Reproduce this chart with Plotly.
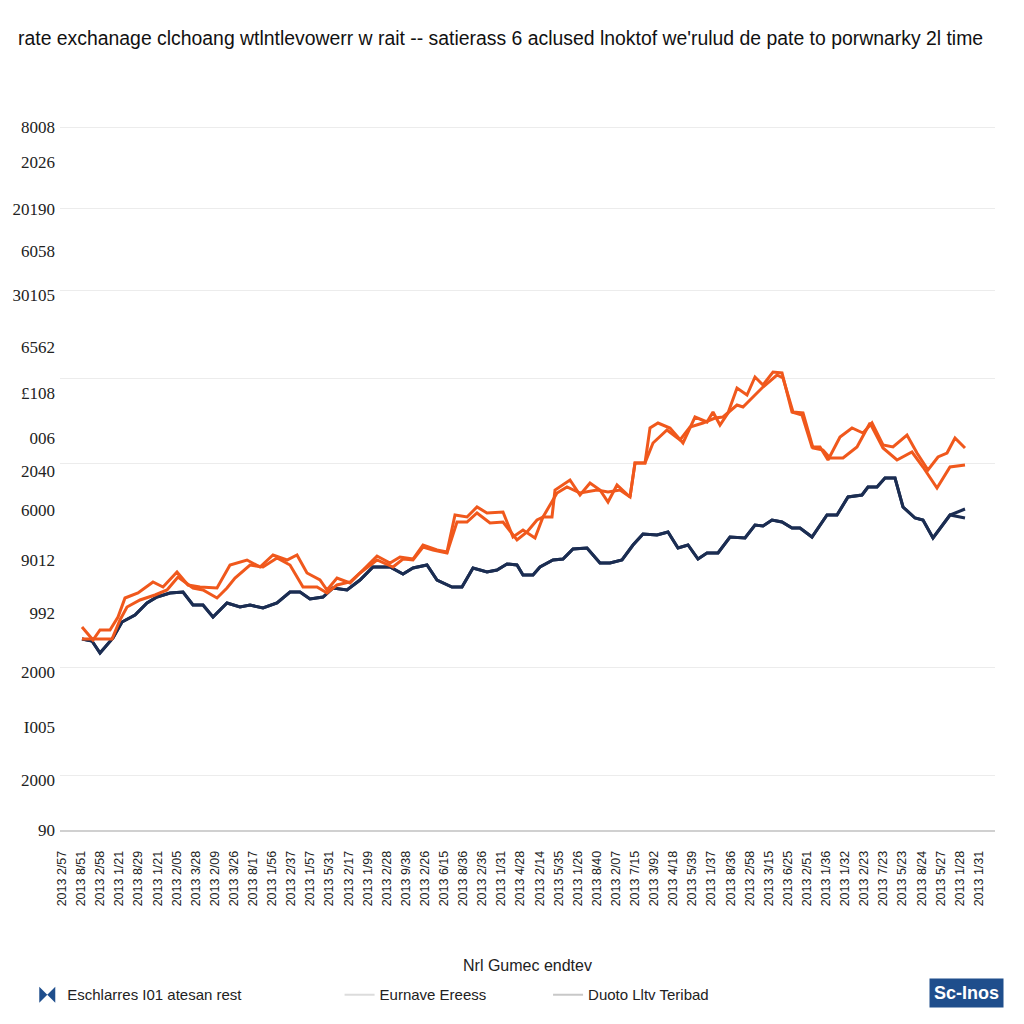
import plotly.graph_objects as go

# ---------------- data (x: days from start, y: rate index) ----------------
navy_x = [2, 12, 20, 33, 42, 55, 67, 77, 90, 103, 113, 123, 133, 147, 160, 170, 183, 197, 210, 220,
          230, 243, 253, 267, 280, 293, 310, 323, 333, 347, 357, 372, 382, 393, 407, 417, 427, 437, 443, 453,
          460, 473, 483, 493, 507, 520, 530, 542, 553, 563, 577, 588, 598, 608, 618, 627, 638, 650, 665, 675,
          683, 692, 702, 712, 720, 732, 747, 757, 768, 782, 788, 797, 805, 815, 823, 835, 843, 853, 870, 885]
navy_a = [19.1, 18.9, 17.7, 19.2, 20.8, 21.5, 22.7, 23.3, 23.7, 23.8, 22.5, 22.5, 21.3, 22.7, 22.3, 22.5, 22.2, 22.7, 23.8, 23.8,
          23.1, 23.3, 24.2, 24.0, 25.0, 26.3, 26.3, 25.6, 26.2, 26.5, 25.0, 24.3, 24.3, 26.2, 25.8, 26.0, 26.6, 26.5, 25.5, 25.5,
          26.3, 27.0, 27.1, 28.1, 28.2, 26.7, 26.7, 27.0, 28.5, 29.6, 29.5, 29.8, 28.2, 28.5, 27.1, 27.7, 27.7, 29.3, 29.2, 30.5,
          30.4, 31.0, 30.8, 30.2, 30.2, 29.3, 31.5, 31.5, 33.3, 33.5, 34.3, 34.3, 35.2, 35.2, 32.3, 31.2, 31.0, 29.2, 31.5, 32.1]
navy_b = navy_a[:-1] + [31.2]

orange_a_x = [2, 13, 20, 30, 38, 45, 58, 73, 83, 97, 108, 120, 137, 150, 167, 180, 193, 207, 217, 227,
              240, 247, 257, 270, 283, 297, 310, 320, 333, 343, 357, 367, 375, 387, 397, 407, 423, 433, 443, 455,
              463, 472, 475, 490, 500, 510, 520, 528, 537, 550, 555, 565, 570, 578, 590, 603, 615, 627, 633, 640,
              648, 657, 667, 675, 683, 693, 702, 712, 722, 732, 740, 748, 760, 772, 783, 792, 803, 813, 827, 837,
              848, 858, 867, 875, 885]
orange_a = [20.3, 19.0, 20.0, 20.0, 21.3, 23.2, 23.7, 24.8, 24.3, 25.8, 24.5, 24.3, 24.2, 26.5, 27.0, 26.3, 27.5, 27.0, 27.5, 25.7,
            25.0, 24.0, 25.2, 24.7, 26.0, 27.4, 26.7, 27.3, 27.1, 28.5, 28.0, 27.8, 31.5, 31.3, 32.3, 31.7, 31.8, 29.3, 30.0, 29.2,
            31.3, 31.3, 34.0, 35.0, 33.5, 34.7, 34.0, 32.8, 34.5, 33.3, 36.7, 36.7, 40.2, 40.7, 40.2, 38.7, 41.3, 40.8, 41.8, 40.5,
            41.7, 44.2, 43.5, 45.3, 44.5, 45.8, 45.7, 41.8, 41.5, 38.3, 38.3, 37.0, 39.3, 40.2, 39.7, 40.7, 38.5, 38.3, 39.5, 37.7,
            36.0, 37.3, 37.7, 39.2, 38.2]

orange_b_x = [2, 17, 32, 40, 47, 60, 75, 87, 98, 113, 123, 137, 147, 155, 170, 183, 197, 210, 223, 237,
              247, 257, 270, 280, 297, 313, 323, 333, 343, 353, 367, 377, 387, 397, 410, 423, 437, 447, 457, 463,
              477, 487, 500, 517, 528, 540, 550, 555, 565, 573, 587, 600, 610, 623, 635, 643, 657, 663, 673, 683,
              697, 703, 713, 723, 733, 743, 750, 763, 777, 790, 803, 817, 832, 843, 857, 870, 885]
orange_b = [19.1, 19.1, 19.1, 21.0, 22.3, 23.0, 23.5, 24.0, 25.3, 24.2, 24.0, 23.2, 24.2, 25.2, 26.5, 26.3, 27.2, 26.5, 24.3, 24.3,
            23.7, 24.5, 24.8, 25.7, 27.0, 26.3, 27.1, 27.0, 28.3, 28.0, 27.7, 30.8, 30.8, 31.7, 30.7, 30.8, 29.0, 29.8, 31.0, 31.3,
            33.7, 34.3, 33.7, 34.0, 33.8, 34.0, 33.3, 36.7, 36.7, 38.7, 40.0, 39.0, 40.3, 40.7, 41.2, 41.3, 42.5, 42.3, 43.3, 44.3,
            45.5, 45.2, 41.8, 41.7, 38.2, 38.0, 37.2, 37.2, 38.3, 40.7, 38.2, 37.0, 37.8, 36.3, 34.2, 36.3, 36.5]

# axis texts
y_tick_labels = ["8008", "2026", "20190", "6058", "30105", "6562", "£108", "006", "2040",
                 "6000", "9012", "992", "2000", "I005", "2000", "90"]
y_tick_values = [70.3, 66.8, 62.1, 57.9, 53.5, 48.3, 43.7, 39.2, 35.9, 32.0, 27.0, 21.7, 15.8, 10.3, 5.0, 0]
y_grid_values = [70.3, 62.2, 54.0, 45.2, 36.7, 16.3, 5.5]

x_tick_labels = ["2013 2/57", "2013 8/51", "2013 2/58", "2013 1/21", "2013 8/29", "2013 1/21", "2013 2/05",
                 "2013 3/28", "2013 2/09", "2013 3/26", "2013 8/17", "2013 1/56", "2013 2/37", "2013 1/57",
                 "2013 5/31", "2013 2/17", "2013 1/99", "2013 2/28", "2013 9/38", "2013 2/26", "2013 6/15",
                 "2013 8/36", "2013 2/36", "2013 1/31", "2013 4/28", "2013 2/14", "2013 5/35", "2013 1/26",
                 "2013 8/40", "2013 2/07", "2013 7/15", "2013 3/92", "2013 4/18", "2013 5/39", "2013 1/37",
                 "2013 8/36", "2013 2/58", "2013 3/15", "2013 6/25", "2013 2/51", "2013 1/36", "2013 1/32",
                 "2013 2/23", "2013 7/23", "2013 5/23", "2013 8/24", "2013 5/27", "2013 1/28", "2013 1/31"]
x_tick_step = 19.1
x_tick_start = -18
x_tick_values = [x_tick_start + i * x_tick_step for i in range(len(x_tick_labels))]

title_text = ("rate exchanage clchoang wtlntlevowerr w rait -- satierass 6 aclused lnoktof "
              "we'rulud de pate to porwnarky 2l time")
x_title = "Nrl Gumec endtev"
legend_names = ["Eschlarres I01 atesan rest", "Eurnave Ereess", "Duoto Lltv Teribad"]
logo_text = "Sc-Inos"

NAVY = "#1b2d52"
ORANGE = "#f0581c"
GRID = "#ececec"
SANS = "Liberation Sans, Arial, sans-serif"

fig = go.Figure()

fig.add_trace(go.Scatter(x=navy_x, y=navy_b, mode="lines", line=dict(color=NAVY, width=3),
                         showlegend=False, hoverinfo="skip"))
fig.add_trace(go.Scatter(x=navy_x, y=navy_a, mode="lines", line=dict(color=NAVY, width=3),
                         showlegend=False, hoverinfo="skip"))
fig.add_trace(go.Scatter(x=orange_b_x, y=orange_b, mode="lines", line=dict(color=ORANGE, width=3),
                         showlegend=False, hoverinfo="skip"))
fig.add_trace(go.Scatter(x=orange_a_x, y=orange_a, mode="lines", line=dict(color=ORANGE, width=3),
                         showlegend=False, hoverinfo="skip"))

# dummy legend entries
fig.add_trace(go.Scatter(x=[None], y=[None], mode="markers", name=legend_names[0],
                         marker=dict(symbol="bowtie", size=18, color="#1f4e8c"), legend="legend"))
fig.add_trace(go.Scatter(x=[None], y=[None], mode="lines", name=legend_names[1],
                         line=dict(color="#dcdcdc", width=2), legend="legend2"))
fig.add_trace(go.Scatter(x=[None], y=[None], mode="lines", name=legend_names[2],
                         line=dict(color="#c8c8c8", width=2), legend="legend3"))

# label-only overlay axis trace
fig.add_trace(go.Scatter(x=[None], y=[None], yaxis="y2", showlegend=False))

legend_font = dict(family=SANS, size=15, color="#222")
leg_common = dict(orientation="h", yanchor="middle", y=-0.229, xanchor="left",
                  bgcolor="rgba(0,0,0,0)", font=legend_font, itemclick=False)

# the page body adds an 8px offset, so the figure is 1008px and margins are shifted
fig.update_layout(
    width=1008, height=1008,
    margin=dict(l=52, r=21, t=102, b=186, autoexpand=False),
    paper_bgcolor="white", plot_bgcolor="white",
    title=dict(text=title_text, x=10 / 1008, xanchor="left", xref="container",
               y=1 - 30 / 1008, yanchor="middle", yref="container",
               font=dict(family=SANS, size=19.4, color="#111")),
    xaxis=dict(range=[-20, 915], tickvals=x_tick_values, ticktext=x_tick_labels, tickangle=-90,
               showgrid=False, zeroline=False, showline=True, linecolor="#d0d0d0", linewidth=1.5,
               ticks="", ticklabelstandoff=14,
               tickfont=dict(family=SANS, size=12.5, color="#222")),
    yaxis=dict(range=[0, 72], tickvals=y_grid_values, showticklabels=False, showgrid=True,
               gridcolor=GRID, gridwidth=1, zeroline=False, ticks=""),
    yaxis2=dict(range=[0, 72], overlaying="y", side="left", tickvals=y_tick_values,
                ticktext=y_tick_labels, showgrid=False, zeroline=False, ticks="",
                ticklabelstandoff=4,
                tickfont=dict(family="Liberation Serif, DejaVu Serif, serif", size=17, color="#222")),
    legend=dict(x=-0.035, **leg_common),
    legend2=dict(x=0.299, **leg_common),
    legend3=dict(x=0.522, **leg_common),
    annotations=[
        dict(text=x_title, xref="paper", yref="paper", x=0.5, y=-0.1875, showarrow=False,
             xanchor="center", yanchor="middle",
             font=dict(family=SANS, size=16, color="#222")),
        dict(text="<b>" + logo_text + "</b>", xref="paper", yref="paper", x=0.97, y=-0.227,
             showarrow=False, xanchor="center", yanchor="middle", bgcolor="#1f4e8c", borderpad=4,
             font=dict(family=SANS, size=18, color="white")),
    ],
)

fig.write_html("out.html")
